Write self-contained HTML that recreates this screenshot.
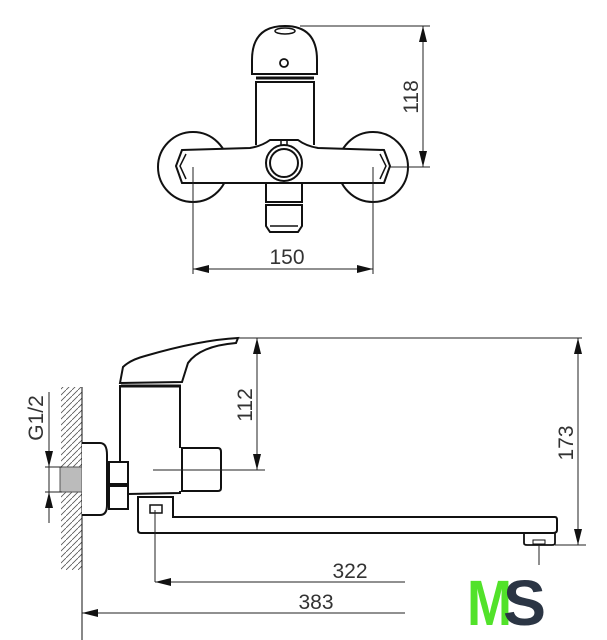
<!DOCTYPE html>
<html><head><meta charset="utf-8"><style>
html,body{margin:0;padding:0;background:#fff;width:607px;height:640px;overflow:hidden}
svg{display:block}
text{font-family:"Liberation Sans",sans-serif;fill:#333}
</style></head><body>
<svg width="607" height="640" viewBox="0 0 607 640" xmlns="http://www.w3.org/2000/svg">
<defs>
<marker id="a" viewBox="0 0 16 8" refX="16" refY="4" markerWidth="16" markerHeight="8" orient="auto-start-reverse" markerUnits="userSpaceOnUse"><path d="M0,0 L16,4 L0,8 z" fill="#111"/></marker>
<pattern id="h" width="6" height="6" patternUnits="userSpaceOnUse"><path d="M-1,7 L7,-1" stroke="#555" stroke-width="0.8"/></pattern>
</defs>
<g fill="none" stroke="#111" stroke-width="2">
<circle cx="193" cy="167" r="35" fill="#fff"/>
<circle cx="373" cy="167" r="35" fill="#fff"/>
<path d="M182,150 L250,148 Q262,146 270,140 L298,140 Q306,146 318,148 L384,150 L390,166 L384,183 L182,183 L176,166 Z" fill="#fff"/>
<path d="M186,154 L180,166 L186,179" stroke-width="1.5"/>
<path d="M380,154 L386,166 L380,179" stroke-width="1.5"/>
<path d="M256,145 L256,82 L314,82 L314,145"/>
<path d="M252,74 L252,60 Q252,26 285,26 Q317,26 317,60 L317,74 Z" fill="#fff"/>
<line x1="256" y1="78" x2="314" y2="78" stroke-width="3"/>
<ellipse cx="285" cy="31" rx="10" ry="3" stroke-width="1.5"/>
<circle cx="284" cy="63" r="4" stroke-width="1.8"/>
<circle cx="284" cy="163" r="18" fill="#fff"/>
<circle cx="284" cy="163" r="14"/>
<path d="M281,145 L281,140 L287,140 L287,145" stroke-width="1.5"/>
<path d="M266,184 L266,202 L302,202 L302,184"/>
<path d="M266,205 L302,205 L302,226 L298,232 L270,232 L266,226 Z"/>
<line x1="270" y1="226" x2="298" y2="226" stroke-width="1.5"/>
</g>
<g stroke="#222" stroke-width="1" fill="none">
<line x1="193" y1="167" x2="193" y2="274"/>
<line x1="373" y1="167" x2="373" y2="274"/>
<line x1="193" y1="269" x2="373" y2="269" marker-start="url(#a)" marker-end="url(#a)"/>
<line x1="300" y1="26" x2="430" y2="26"/>
<line x1="390" y1="167" x2="430" y2="167"/>
<line x1="423" y1="26" x2="423" y2="167" marker-start="url(#a)" marker-end="url(#a)"/>
</g>
<text x="287" y="264" font-size="21" text-anchor="middle">150</text>
<text transform="translate(418,97) rotate(-90)" font-size="21" text-anchor="middle">118</text>

<rect x="61" y="387" width="21" height="183" fill="url(#h)"/>
<g fill="none" stroke="#111" stroke-width="2">
<line x1="82" y1="387" x2="82" y2="640" stroke-width="1"/>
<rect x="60" y="467" width="22" height="25" fill="#bbb" stroke="#555" stroke-width="1"/>
<path d="M82,443 L100,443 Q107,443 107,455 L107,505 Q107,515 100,515 L82,515" fill="#fff"/>
<rect x="109" y="462" width="19" height="22" fill="#fff"/>
<rect x="109" y="486" width="19" height="23" fill="#fff"/>
<path d="M120,462 L120,385 M180,385 L180,448 M180,491 L180,493 L128,494"/>
<path d="M120,383 L123,367 Q130,360 145,356 Q200,340 238,338 L236,343 Q200,346 188,363 L182,382 Z" fill="#fff"/>
<line x1="121" y1="386" x2="181" y2="386" stroke-width="3"/>
<path d="M182,448 L218,448 Q221,448 221,452 L221,488 Q221,491 218,491 L182,491 Z" fill="#fff"/>
<path d="M138,497 L173,497 L173,517 L555,517 Q557,517 557,520 L557,530 Q557,533 553,533 L141,533 Q138,533 138,530 Z" fill="#fff"/>
<rect x="150" y="505" width="12" height="8" stroke-width="1.5"/>
<path d="M524,533 L524,543 Q524,545 527,545 L552,545 Q555,545 555,543 L555,533" stroke-width="1.8"/>
<rect x="533" y="540" width="12" height="4" stroke-width="1"/>
</g>
<g stroke="#222" stroke-width="1" fill="none">
<line x1="49" y1="392" x2="49" y2="523"/>
<line x1="49" y1="447" x2="49" y2="467" marker-end="url(#a)"/>
<line x1="49" y1="512" x2="49" y2="492" marker-end="url(#a)"/>
<line x1="45" y1="467" x2="62" y2="467"/>
<line x1="45" y1="492" x2="62" y2="492"/>
<line x1="153" y1="470" x2="265" y2="470"/>
<line x1="238" y1="338" x2="582" y2="338"/>
<line x1="257" y1="338" x2="257" y2="470" marker-start="url(#a)" marker-end="url(#a)"/>
<line x1="555" y1="545" x2="586" y2="545"/>
<line x1="578" y1="338" x2="578" y2="545" marker-start="url(#a)" marker-end="url(#a)"/>
<line x1="539" y1="545" x2="539" y2="565"/>
<line x1="155" y1="510" x2="155" y2="582"/>
<line x1="155" y1="582" x2="405" y2="582" marker-start="url(#a)"/>
<line x1="82" y1="613" x2="405" y2="613" marker-start="url(#a)"/>
</g>
<text transform="translate(43,418) rotate(-90)" font-size="21" text-anchor="middle">G1/2</text>
<text transform="translate(252,405) rotate(-90)" font-size="21" text-anchor="middle">112</text>
<text transform="translate(573,443) rotate(-90)" font-size="21" text-anchor="middle">173</text>
<text x="350" y="578" font-size="21" text-anchor="middle">322</text>
<text x="316" y="609" font-size="21" text-anchor="middle">383</text>
<text x="467" y="625" font-size="64" font-weight="bold" textLength="45" lengthAdjust="spacingAndGlyphs" style="fill:#52e22a">M</text>
<text x="503" y="625" font-size="64" font-weight="bold" textLength="43" lengthAdjust="spacingAndGlyphs" style="fill:#2b3544">S</text>
</svg>
</body></html>
